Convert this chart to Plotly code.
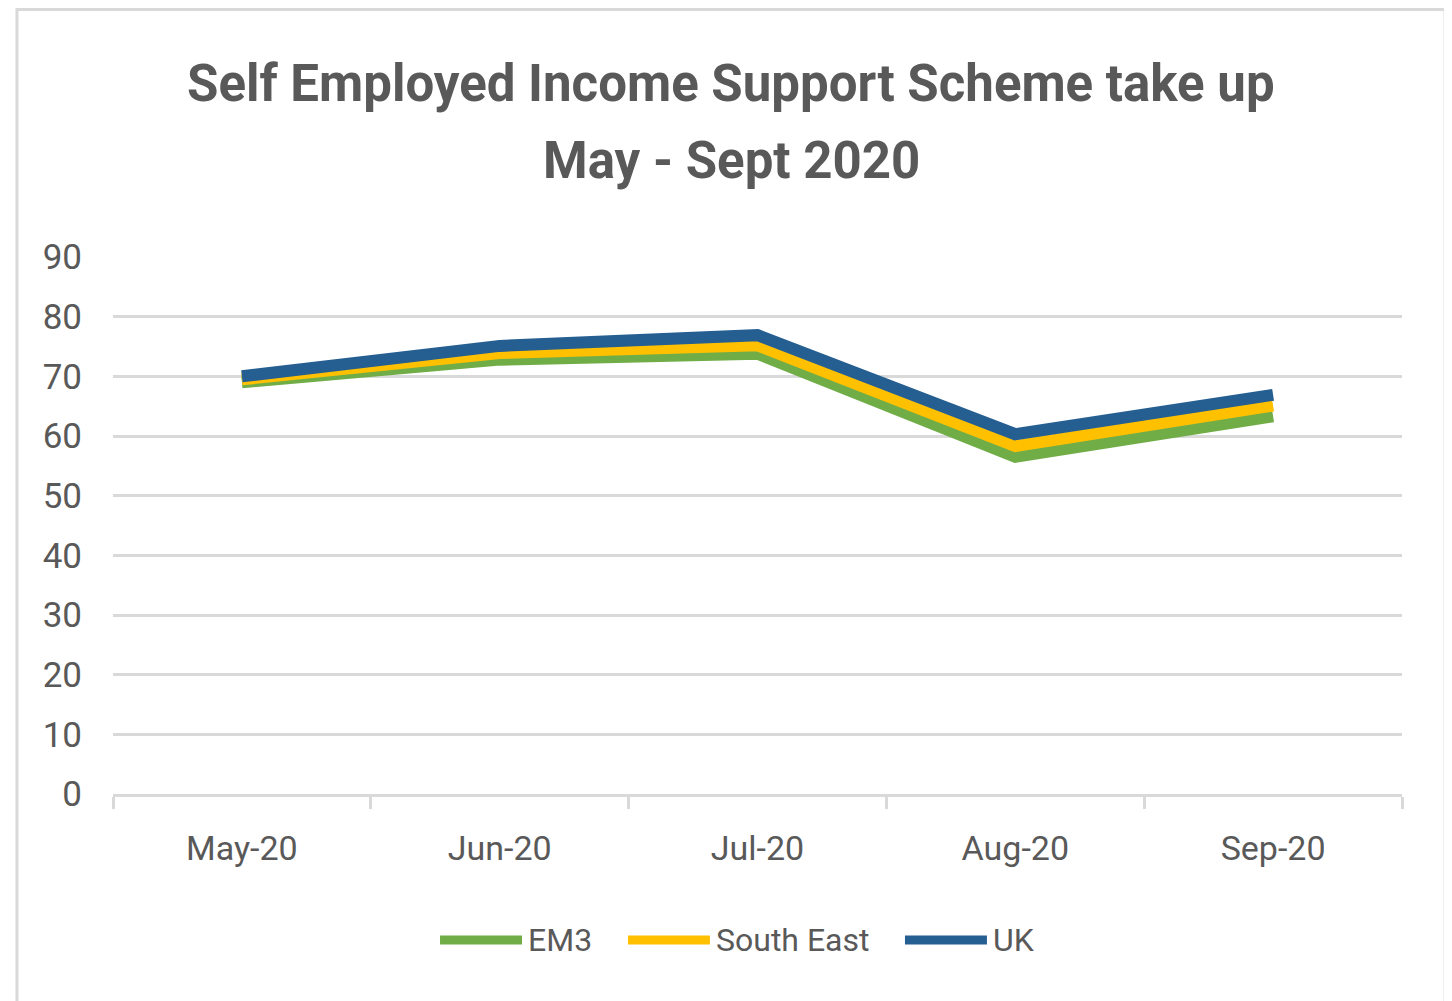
import plotly.graph_objects as go

months = ["May-20", "Jun-20", "Jul-20", "Aug-20", "Sep-20"]
em3 = [69, 72.8, 73.8, 56.5, 63.3]
south_east = [69.5, 73.9, 75.2, 58.3, 65.1]
uk = [70, 75.1, 76.9, 60.3, 66.9]

series_names = ["EM3", "South East", "UK"]
series_values = [em3, south_east, uk]
series_colors = ["#70AD47", "#FFC000", "#255E91"]

title_lines = ["Self Employed Income Support Scheme take up", "May - Sept 2020"]

FONT = "Roboto, Arial, sans-serif"
GREY = "#595959"
GRID = "#d9d9d9"

fig = go.Figure()
for name, vals, col in zip(series_names, series_values, series_colors):
    fig.add_trace(go.Scatter(
        x=months, y=vals, name=name, mode="lines",
        line=dict(color=col, width=12),
        showlegend=False,
    ))

annotations = []
# Title (two lines, centred above the plot)
for txt, ypos in zip(title_lines, [1.324, 1.1806]):
    annotations.append(dict(
        text=f"<b>{txt}</b>", xref="paper", yref="paper",
        x=0.4795, y=ypos, xanchor="center", yanchor="middle",
        showarrow=False, font=dict(family=FONT, size=51, color=GREY),
    ))

# Chart border + custom legend with long line keys
shapes = [dict(
    type="rect", xref="paper", yref="paper",
    x0=-0.0745, x1=1.0334, y0=-0.45, y1=1.461,
    line=dict(color=GRID, width=3), fillcolor="rgba(0,0,0,0)", layer="below",
)]
legend_y = -0.2719
legend_x0 = [0.2537, 0.3995, 0.6144]
key_len = 0.0636
for name, col, lx in zip(series_names, series_colors, legend_x0):
    shapes.append(dict(
        type="line", xref="paper", yref="paper",
        x0=lx, x1=lx + key_len, y0=legend_y, y1=legend_y,
        line=dict(color=col, width=9),
    ))
    annotations.append(dict(
        text=name, xref="paper", yref="paper",
        x=lx + key_len + 0.003, y=legend_y, xanchor="left", yanchor="middle",
        showarrow=False, font=dict(family=FONT, size=32, color=GREY),
    ))

fig.update_layout(
    width=1444, height=993,
    paper_bgcolor="white", plot_bgcolor="white",
    margin=dict(l=105, r=50, t=249, b=207),
    font=dict(family=FONT, color=GREY, size=35),
    showlegend=False,
    xaxis=dict(
        type="category", range=[-0.5, 4.5],
        showline=True, linecolor=GRID, linewidth=3,
        ticks="outside", ticklen=12, tickwidth=3, tickcolor=GRID,
        tickson="boundaries", showgrid=False,
        tickfont=dict(size=34, color=GREY), ticklabelstandoff=22,
    ),
    yaxis=dict(
        range=[0, 90], dtick=10, tick0=0,
        showgrid=True, gridcolor=GRID, gridwidth=3,
        zeroline=False, showline=False, ticks="",
        tickfont=dict(size=35, color=GREY), ticklabelstandoff=30,
    ),
    shapes=shapes,
    annotations=annotations,
)

fig.write_html("out.html")
